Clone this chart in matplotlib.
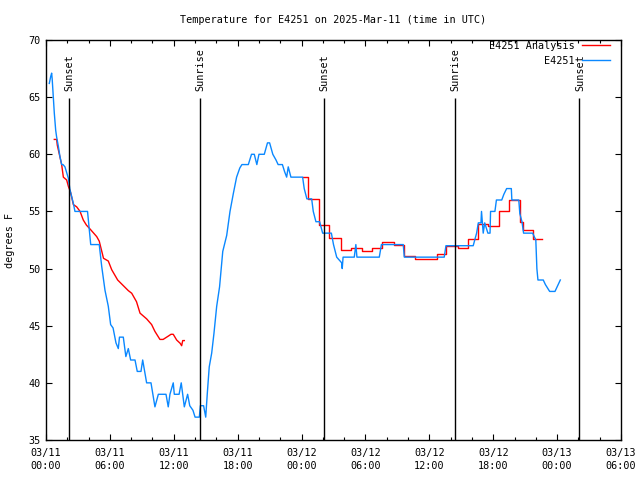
import matplotlib
matplotlib.use("Agg")
import matplotlib.pyplot as plt
import numpy as np

plt.rcParams['font.family'] = 'DejaVu Sans Mono'
plt.rcParams['font.size'] = 7.3

# hours since 03/11 00:00 UTC
obs_t = [0.31, 0.44, 0.53, 0.58, 0.69, 0.78, 0.91, 1.0, 1.16, 1.31, 1.47, 1.6, 1.78, 2.1, 2.25,
         2.57, 2.72, 3.9, 4.2, 5.0, 5.23, 5.54, 5.85, 6.07, 6.3, 6.57, 6.79, 6.9, 7.26, 7.5,
         7.73, 7.95, 8.36, 8.57, 8.92, 9.08, 9.45, 9.86, 10.23, 10.55, 11.27, 11.48, 11.64,
         11.95, 12.05, 12.5, 12.7, 12.99, 13.3, 13.5, 13.8, 14.0, 14.4, 14.5, 14.8, 15.0,
         15.15, 15.33, 15.56, 15.77, 16.03, 16.3, 16.6, 16.97, 17.28, 17.6, 17.9, 18.2, 18.4,
         19.0, 19.3, 19.56, 19.8, 20.0, 20.5, 20.8, 21.0, 21.3, 21.6, 21.8, 22.2, 22.4, 22.6,
         22.75, 23.0, 24.1, 24.25, 24.5, 24.95, 25.1, 25.35, 25.7, 25.98, 26.8, 27.0, 27.3,
         27.77, 27.82, 27.9, 28.95, 29.1, 29.2, 31.3, 31.5, 33.55, 33.65, 37.4, 37.56, 40.12,
         40.44, 40.6, 40.85, 40.9, 41.06, 41.2, 41.5, 41.7, 41.75, 42.16, 42.3, 42.8, 43.0,
         43.26, 43.7, 43.75, 44.4, 44.5, 44.7, 44.85, 45.7, 46.0, 46.1, 46.2, 46.7, 46.9,
         47.3, 47.8, 48.0, 48.3]
obs_v = [66.2, 66.8, 67.1, 66.6, 65.0, 63.6, 62.1, 61.5, 60.7, 59.8, 59.1, 59.1, 58.9, 57.9, 56.9,
         55.7, 55.0, 55.0, 52.1, 52.1, 50.2, 48.1, 46.7, 45.1, 44.8, 43.5, 43.0, 44.0, 44.0, 42.3,
         43.0, 42.0, 42.0, 41.0, 41.0, 42.0, 40.0, 40.0, 37.9, 39.0, 39.0, 37.9, 39.0,
         40.0, 39.0, 39.0, 40.0, 37.9, 39.0, 38.0, 37.6, 37.0, 37.0, 38.0, 38.0, 37.0,
         39.1, 41.4, 42.6, 44.3, 46.7, 48.4, 51.5, 52.9, 55.0, 56.6, 58.0, 58.8, 59.1,
         59.1, 60.0, 60.0, 59.1, 60.0, 60.0, 61.0, 61.0, 60.0, 59.5, 59.1, 59.1, 58.5, 58.0,
         58.9, 58.0, 58.0, 57.0, 56.1, 56.1, 55.0, 54.1, 54.1, 53.1, 53.1, 52.1, 51.0,
         50.5, 50.0, 51.0, 51.0, 52.1, 51.0, 51.0, 52.1, 52.1, 51.0, 51.0, 52.0, 52.0,
         53.1, 54.0, 54.0, 55.0, 53.1, 54.0, 53.1, 53.1, 55.0, 55.0, 56.0, 56.0, 56.5,
         57.0, 57.0, 56.0, 56.0, 54.8, 54.1, 53.1, 53.1, 52.5, 50.0, 49.0, 49.0, 48.6,
         48.0, 48.0, 48.4, 49.0]

# analysis, first run (overnight) and second run (step levels)
ana1_t = [0.78, 1.0, 1.06, 1.47, 1.63, 1.94, 2.1, 2.3, 2.4, 2.57, 2.88, 3.2, 3.5, 3.8, 4.1,
          4.76, 5.0, 5.4, 5.85, 6.17, 6.73, 7.73, 8.05, 8.5, 8.83, 9.45, 9.92, 10.23, 10.7,
          11.0, 11.5, 11.74, 11.95, 12.27, 12.6, 12.74, 12.84, 12.99]
ana1_v = [61.3, 61.3, 60.8, 59.1, 58.0, 57.75, 57.2, 56.7, 56.3, 55.6, 55.4, 55.0, 54.25, 53.8, 53.5,
          52.8, 52.4, 50.9, 50.66, 49.9, 49.0, 48.07, 47.84, 47.1, 46.1, 45.6, 45.1, 44.5, 43.8,
          43.8, 44.1, 44.25, 44.25, 43.75, 43.46, 43.25, 43.7, 43.7]
ana2_t = [24.1, 24.6, 25.66, 26.6, 27.7, 28.6, 29.7, 30.6, 31.6, 32.7, 33.6, 34.65, 36.7, 37.6,
          38.7, 39.65, 40.6, 41.5, 42.56, 43.5, 44.5, 44.75, 45.7, 46.6]
ana2_v = [58.0, 56.06, 53.8, 52.65, 51.6, 51.8, 51.5, 51.8, 52.35, 52.1, 51.1, 50.8, 51.3, 51.97,
          51.8, 52.56, 53.9, 53.7, 55.0, 56.0, 54.1, 53.4, 52.56, 52.56]

sun_t = [2.16, 14.46, 26.1, 38.4, 50.1]
sun_lbl = ['Sunset', 'Sunrise', 'Sunset', 'Sunrise', 'Sunset']

xticks = [0, 6, 12, 18, 24, 30, 36, 42, 48, 54]
xlabels = ['03/11\n00:00', '03/11\n06:00', '03/11\n12:00', '03/11\n18:00', '03/12\n00:00',
           '03/12\n06:00', '03/12\n12:00', '03/12\n18:00', '03/13\n00:00', '03/13\n06:00']

fig = plt.figure(figsize=(6.4, 4.8), dpi=100)
ax = fig.add_axes([46/640, 40/480, 575/640, 400/480])

red = '#ff0000'
blue = '#0a88ff'
ax.plot(ana1_t, ana1_v, color=red, lw=1.0, label='E4251 Analysis')
ax.plot(ana2_t, ana2_v, color=red, lw=1.0, drawstyle='steps-post')
ax.plot(obs_t, obs_v, color=blue, lw=1.0, label='E4251')

for t, s in zip(sun_t, sun_lbl):
    ax.vlines(t, 35, 64.9, color='black', lw=1.0)
    ax.text(t + 0.05, 65.5, s, rotation=90, ha='center', va='bottom')

ax.set_xlim(0, 54)
ax.set_ylim(35, 70)
ax.set_xticks(xticks)
ax.set_xticklabels(xlabels, linespacing=1.3)
ax.set_xticks(np.arange(0, 55, 2), minor=True)
ax.set_yticks(np.arange(35, 71, 5))
ax.tick_params(which='both', direction='in', top=True, right=True, width=0.8)
ax.tick_params(which='major', length=4)
ax.tick_params(which='minor', length=2)
ax.tick_params(axis='x', pad=6)
ax.tick_params(axis='y', pad=4)
for sp in ax.spines.values():
    sp.set_linewidth(1.0)

ax.legend(loc='upper right', bbox_to_anchor=(1 - 11/575, 1 - 1/400), frameon=False,
          markerfirst=False, handlelength=2.8, handletextpad=0.7, borderpad=0,
          borderaxespad=0, labelspacing=0.45)

fig.text(333.5/640, 1 - 20/480, 'Temperature for E4251 on 2025-Mar-11 (time in UTC)',
         ha='center', va='center')
fig.text(10/640, 0.5, 'degrees F', rotation=90, ha='center', va='center')

fig.savefig('out.png', dpi=100)
